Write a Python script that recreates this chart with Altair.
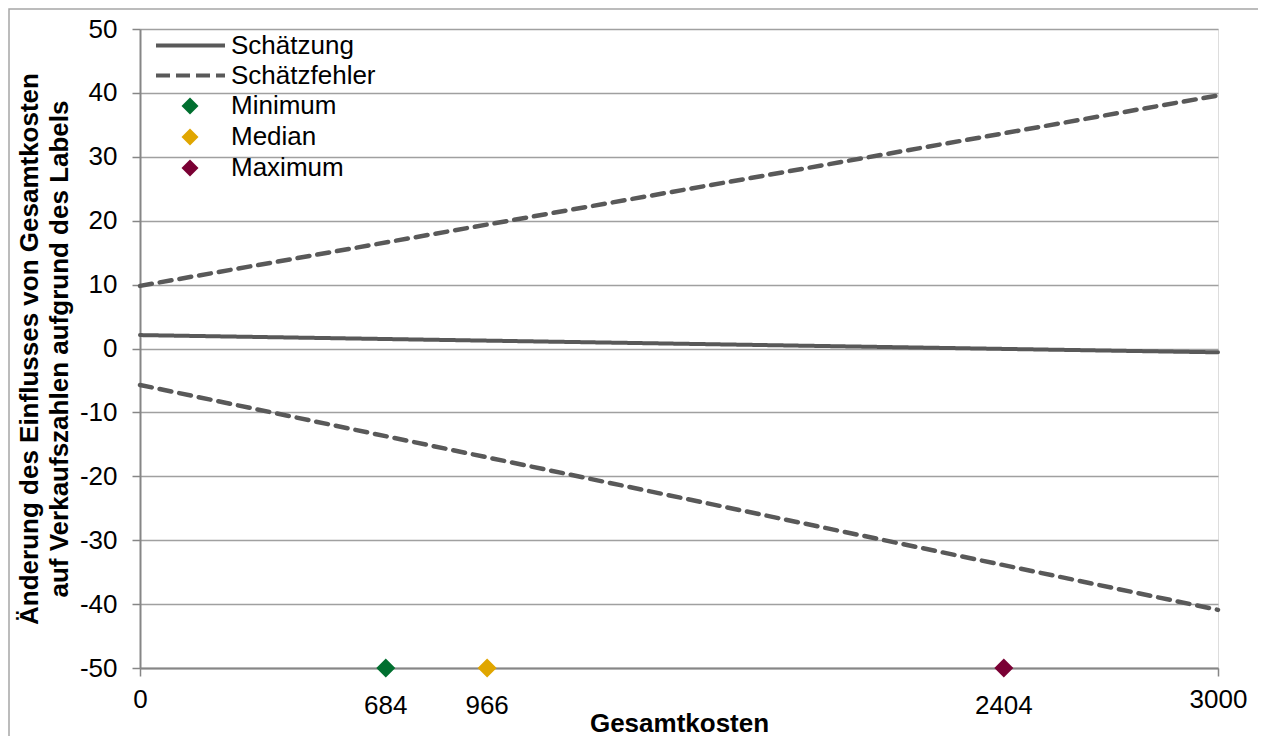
import altair as alt
import pandas as pd

# ---- data ----
x_kosten = [0, 3000]
schaetzung = [2.1, -0.6]
fehler_oben = [9.8, 39.6]
fehler_unten = [-5.7, -40.9]

marker_namen = ["Minimum", "Median", "Maximum"]
marker_kosten = [684, 966, 2404]
marker_y = [-50, -50, -50]
marker_farben = ["#006F2F", "#E0A600", "#7A0034"]

y_ticks = [-50, -40, -30, -20, -10, 0, 10, 20, 30, 40, 50]
x_ticks = [0, 3000]

FONT = "Liberation Sans"
GRAU = "#595959"
DASH = [12, 8]

est_df = pd.DataFrame({"x": x_kosten, "y": schaetzung, "typ_s": "Schätzung"})
err_rows = []
for xv, b, c in zip(x_kosten, fehler_oben, fehler_unten):
    err_rows.append({"x": xv, "y": b, "serie": "o", "typ_f": "Schätzfehler"})
    err_rows.append({"x": xv, "y": c, "serie": "u", "typ_f": "Schätzfehler"})
err_df = pd.DataFrame(err_rows)

markers_df = pd.DataFrame({"name": marker_namen, "x": marker_kosten, "y": marker_y})
frame_df = pd.DataFrame({"r": [0]})

xscale = alt.Scale(domain=[0, 3000], nice=False, zero=False)
yscale = alt.Scale(domain=[-50, 50], nice=False, zero=False)

x_axis = alt.Axis(
    values=x_ticks, grid=False, title="Gesamtkosten", labelFlush=False,
    tickSize=8, labelPadding=10, titlePadding=-2,
    labelFontSize=26, labelColor="black", labelFont=FONT,
    titleFontSize=26, titleFont=FONT, titleFontWeight="bold", titleColor="black",
    domainColor="#868686", domainWidth=2, tickColor="#868686", tickWidth=1.5,
    labelExpr="'' + datum.value",
)
y_axis = alt.Axis(
    values=y_ticks, grid=True, gridColor="#A0A0A0", gridWidth=1.5,
    title=["Änderung des Einflusses von Gesamtkosten", "auf Verkaufszahlen aufgrund des Labels"],
    titleLineHeight=30, titlePadding=7,
    tickSize=8, labelPadding=15,
    labelFontSize=26, labelColor="black", labelFont=FONT,
    titleFontSize=26, titleFont=FONT, titleFontWeight="bold", titleColor="black",
    domainColor="#868686", domainWidth=2, tickColor="#868686", tickWidth=1.5,
    labelExpr="'' + datum.value",
)

line_legend = dict(
    title=None, orient="none", legendX=14, padding=0,
    symbolType="stroke", symbolSize=4761, symbolStrokeWidth=4,
    symbolStrokeColor=GRAU, labelOffset=4,
    labelFontSize=26, labelFont=FONT, labelColor="black",
)

est_line = alt.Chart(est_df).mark_line(strokeWidth=4, color=GRAU, strokeCap="round").encode(
    x=alt.X("x:Q", scale=xscale, axis=x_axis),
    y=alt.Y("y:Q", scale=yscale, axis=y_axis),
    strokeDash=alt.StrokeDash(
        "typ_s:N",
        scale=alt.Scale(domain=["Schätzung"], range=[[1, 0]]),
        legend=alt.Legend(legendY=-20, **line_legend),
    ),
)

err_lines = alt.Chart(err_df).mark_line(
    strokeWidth=4.5, color=GRAU, strokeCap="round", strokeDash=DASH
).encode(
    x=alt.X("x:Q", scale=xscale),
    y=alt.Y("y:Q", scale=yscale),
    detail="serie:N",
    opacity=alt.Opacity(
        "typ_f:N",
        scale=alt.Scale(domain=["Schätzfehler"], range=[1]),
        legend=alt.Legend(legendY=10, symbolDash=[14, 6], **line_legend),
    ),
)

points = alt.Chart(markers_df).mark_point(filled=True, shape="diamond", size=361, opacity=1).encode(
    x=alt.X("x:Q", scale=xscale),
    y=alt.Y("y:Q", scale=yscale),
    color=alt.Color(
        "name:N",
        scale=alt.Scale(domain=marker_namen, range=marker_farben),
        legend=alt.Legend(
            title=None, orient="none", legendX=37, legendY=64, padding=0,
            symbolType="diamond", symbolSize=290, symbolStrokeWidth=0,
            symbolOpacity=1, labelOffset=28, rowPadding=5,
            labelFontSize=26, labelFont=FONT, labelColor="black",
        ),
    ),
)

labels = alt.Chart(markers_df).mark_text(
    dy=38, fontSize=26, font=FONT, color="black", baseline="middle", align="center"
).encode(
    x=alt.X("x:Q", scale=xscale),
    y=alt.Y("y:Q", scale=yscale),
    text=alt.Text("x:Q", format="d"),
)

frame = alt.Chart(frame_df).mark_rect(
    fillOpacity=0, stroke="#A6A6A6", strokeWidth=1.5
).encode(
    x=alt.value(-131), x2=alt.value(1123), y=alt.value(-20), y2=alt.value(780)
)

chart = alt.layer(frame, est_line, err_lines, points, labels).properties(
    width=1078, height=639,
    padding={"left": 132, "top": 21, "right": 40, "bottom": 68},
    autosize=alt.AutoSizeParams(type="none"),
).configure_view(stroke=None).configure(font=FONT)

chart.save("out.html", embed_options={"renderer": "svg", "actions": False})
